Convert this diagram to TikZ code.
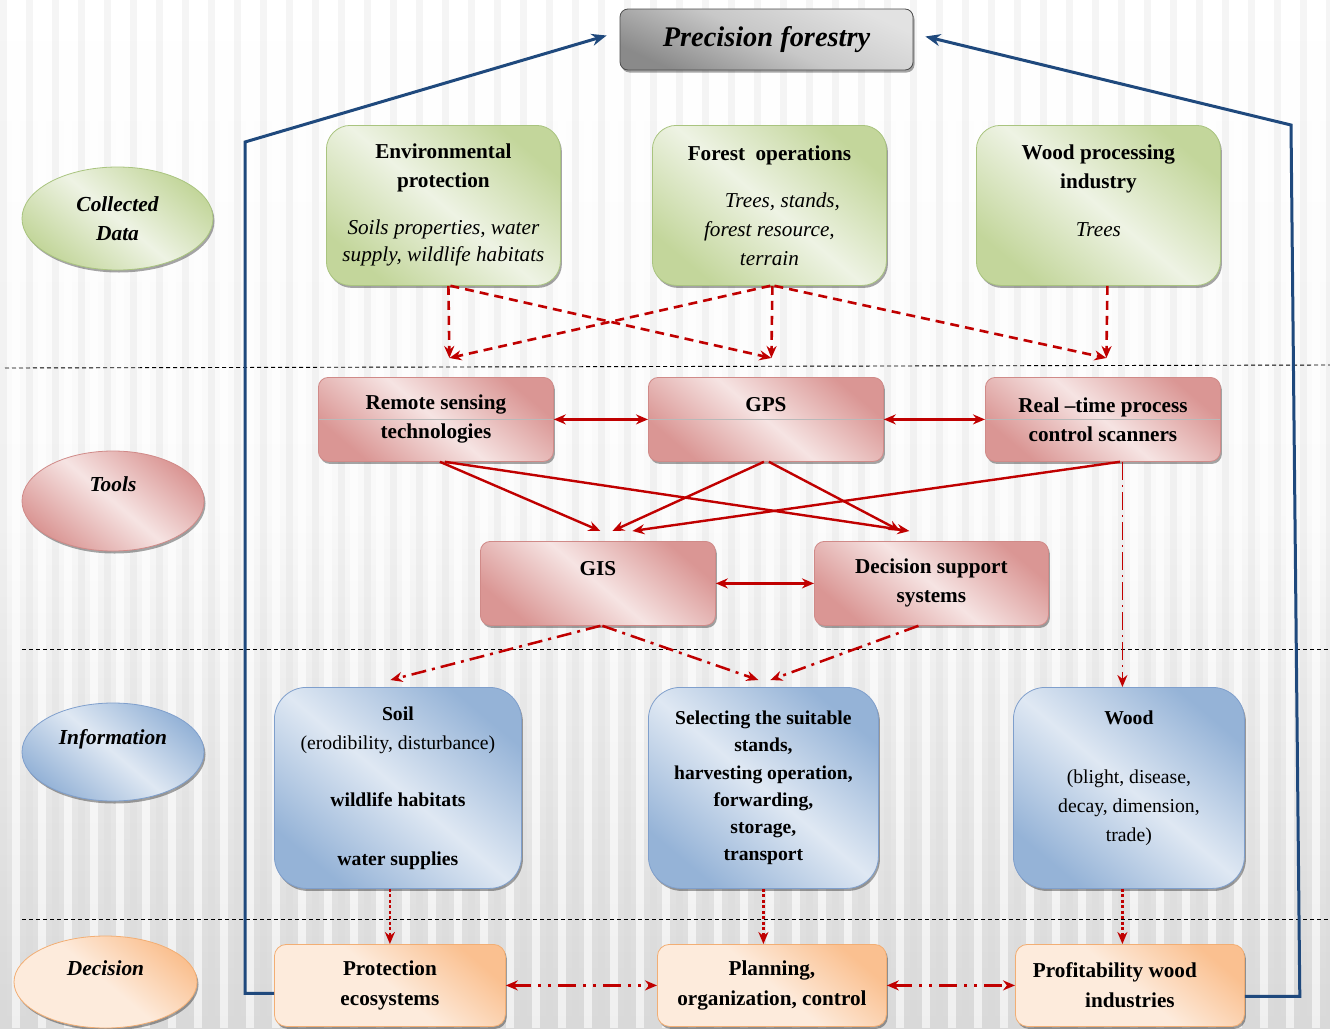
\documentclass[tikz,border=0pt]{standalone}
\usepackage{fontspec}
\setmainfont{Liberation Serif}
\usetikzlibrary{shapes.geometric,arrows.meta,shadows,calc}
\definecolor{gdk}{HTML}{C3D69B}
\definecolor{glt}{HTML}{EEF3E4}
\definecolor{gbd}{HTML}{A9C47F}
\definecolor{rdk}{HTML}{DA9694}
\definecolor{rlt}{HTML}{F6E4E3}
\definecolor{rbd}{HTML}{D08A88}
\definecolor{bdk}{HTML}{95B3D7}
\definecolor{blt}{HTML}{DFE8F3}
\definecolor{bbd}{HTML}{7F9FCC}
\definecolor{odk}{HTML}{FAC090}
\definecolor{olt}{HTML}{FDEBDC}
\definecolor{obd}{HTML}{F2AE74}
\definecolor{tdk}{HTML}{8A8A8A}
\definecolor{tlt}{HTML}{E2E2E2}
\definecolor{arr}{HTML}{C00000}
\definecolor{fbc}{HTML}{1F497D}
\newcommand\myit[1]{{\mdseries\itshape #1}}
\newcommand\myrm[1]{{\mdseries #1}}
\begin{document}
\begin{tikzpicture}[x=1pt,y=-1pt,
  shad/.style={drop shadow={shadow xshift=1.5pt, shadow yshift=-2.5pt, fill=black, opacity=0.35}},
  box/.style={shad, draw, line width=0.8pt, align=center, inner sep=2pt, anchor=north west},
  gbox/.style={box, rounded corners=24pt, draw=gbd, top color=gdk, bottom color=gdk, middle color=glt, shading angle=-40, minimum height=160pt, font=\fontsize{21.2}{29}\selectfont\bfseries},
  rbox/.style={box, rounded corners=10pt, draw=rbd, top color=rdk, bottom color=rdk, middle color=rlt, shading angle=-40, minimum width=235pt, minimum height=84pt, font=\fontsize{21.2}{29}\selectfont\bfseries},
  bbox/.style={box, rounded corners=32pt, draw=bbd, top color=bdk, bottom color=bdk, middle color=blt, shading angle=-40, minimum height=201pt, font=\fontsize{19.7}{29}\selectfont\bfseries},
  obox/.style={box, rounded corners=12pt, draw=obd, top color=odk, bottom color=olt, middle color=olt, shading angle=-40, minimum height=82pt, font=\fontsize{21.2}{30}\selectfont\bfseries},
  ell/.style={shad, ellipse, draw, line width=0.8pt, inner sep=0pt, align=center, font=\fontsize{21.4}{29}\selectfont\bfseries\itshape},
  sep/.style={draw=black, line width=0.9pt, dash pattern=on 4pt off 3pt},
  tip/.style={-{Stealth[length=12pt,width=10pt]}},
  dtip/.style={{Stealth[length=12pt,width=10pt]}-{Stealth[length=12pt,width=10pt]}},
  dsh/.style={draw=arr, line width=2.6pt, dash pattern=on 9pt off 6pt, tip},
  sol/.style={draw=arr, line width=2.4pt, tip},
  ddot/.style={draw=arr, line width=2.5pt, dash pattern=on 15pt off 6pt on 3pt off 6pt, tip},
  thdot/.style={draw=arr, line width=1.8pt, dash pattern=on 18pt off 5pt on 2pt off 5pt, tip},
  dots/.style={draw=arr, line width=2.2pt, dash pattern=on 3pt off 2.5pt, tip},
  ddd/.style={draw=arr, line width=2.6pt, dash pattern=on 18pt off 7pt on 3pt off 7pt on 3pt off 7pt, dtip},
  fb/.style={draw=fbc, line width=3pt, -{Stealth[length=15pt,width=12pt]}}
]
\useasboundingbox (0,0) rectangle (1330,1028);
% background
\fill[top color=white, bottom color=gray!30, middle color=gray!5] (0,0) rectangle (1330,1028);
\foreach \x in {0,26,...,1330} {
  \fill[gray!30, opacity=0.25] (\x,0) rectangle ++(7,1028);
  \fill[white, opacity=0.6] (\x+12,0) rectangle ++(8,1028);
}
% separators
\draw[sep] (5,368) -- (1330,365);
\draw[sep] (22,649) -- (1330,649);
\draw[sep] (22,919) -- (1330,919);

% title
\node[shad, draw=gray!60!black, line width=0.8pt, rounded corners=8pt, top color=tlt, bottom color=tdk, middle color=tlt!70!tdk, shading angle=-25, minimum width=293pt, minimum height=61pt, font=\fontsize{28.4}{32}\selectfont\bfseries\itshape] (pf) at (766.5,39.5) {Precision forestry};

% ellipses
\node[ell, draw=gbd, top color=gdk, bottom color=gdk, middle color=glt, shading angle=-40, minimum width=191pt, minimum height=103pt] (cd) at (117.5,218.5) {Collected\\Data};
\node[ell, draw=rbd, top color=rdk, bottom color=rdk, middle color=rlt, shading angle=-40, minimum width=182pt, minimum height=100pt] (tl) at (113,501) {Tools\\[4pt]\mbox{}};
\node[ell, draw=bbd, top color=bdk, bottom color=bdk, middle color=blt, shading angle=-40, minimum width=182pt, minimum height=98pt] (inf) at (113,752) {Information\\[1pt]\mbox{}};
\node[ell, draw=obd, top color=odk, bottom color=olt, middle color=olt, shading angle=-40, minimum width=183pt, minimum height=92pt] (dec) at (105.5,982) {Decision\\[-1pt]\mbox{}};

% collected data
\node[gbox, minimum width=234pt] (env) at (326,125) {Environmental\\protection\\[18pt]\myit{Soils properties, water}\\[-2pt]\myit{supply, wildlife habitats}};
\node[gbox, minimum width=234pt] (fo) at (652,125) {Forest\ \ operations\\[18pt]\makebox[26pt]{}\myit{Trees, stands,}\\\myit{forest resource,}\\\myit{terrain}};
\node[gbox, minimum width=244pt] (wp) at (976,125) {Wood processing\\industry\\[19pt]\myit{Trees}\\\mbox{}};

% tools
\tikzset{midline/.style={path picture={\draw[gray!55, line width=0.5pt] (path picture bounding box.west) -- (path picture bounding box.east);}}}
\node[rbox, midline] (rs) at (318,377) {Remote sensing\\technologies};
\node[rbox, midline] (gps) at (648,377) {GPS\\\mbox{}};
\node[rbox, midline] (rt) at (985,377) {Real --time process\\control scanners};
\node[rbox] (gis) at (480,541) {GIS\\\mbox{}};
\node[rbox, minimum width=234pt] (dss) at (814,541) {Decision support\\systems};

% information
\node[bbox, minimum width=247pt] (soil) at (274,687) {Soil\\\myrm{(erodibility, disturbance)}\\[28pt]wildlife habitats\\[30pt]water supplies};
\node[bbox, minimum width=230pt, font=\fontsize{19.6}{27.2}\selectfont\bfseries] (sel) at (648,687) {Selecting the suitable\\stands,\\harvesting operation,\\forwarding,\\storage,\\transport};
\node[bbox, minimum width=231pt] (wood) at (1013,687) {Wood\\[30pt]\myrm{(blight, disease,}\\\myrm{decay, dimension,}\\\myrm{trade)}\\[-6pt]\mbox{}};

% decision
\node[obox, minimum width=231pt] (prot) at (274,944) {Protection\\ecosystems};
\node[obox, minimum width=229pt] (plan) at (657,944) {Planning,\\organization, control};
\node[obox, minimum width=229pt] (prof) at (1015,944) {Profitability wood\makebox[30pt]{}\\industries};

% arrow end coordinates
\coordinate (rsIn) at ([xshift=13.5pt,yshift=19pt]rs.north);
\coordinate (gpsIn) at ([xshift=5.5pt,yshift=19pt]gps.north);
\coordinate (rtIn) at ([xshift=3.5pt,yshift=19pt]rt.north);
\coordinate (gisIn1) at ([xshift=2.5pt,yshift=10pt]gis.north);
\coordinate (gisIn2) at ([xshift=14.5pt,yshift=10pt]gis.north);
\coordinate (gisIn3) at ([xshift=34.5pt,yshift=10pt]gis.north);
\coordinate (dssIn1) at ([xshift=-31pt,yshift=10pt]dss.north);
\coordinate (dssIn2) at ([xshift=-22pt,yshift=10pt]dss.north);
\coordinate (soilIn) at ([xshift=-7.5pt,yshift=7pt]soil.north);
\coordinate (selIn1) at ([xshift=-5pt,yshift=7pt]sel.north);
\coordinate (selIn2) at ([xshift=7pt,yshift=7pt]sel.north);

% collected data -> tools
\draw[dsh] ([xshift=5pt]env.south) -- (rsIn);
\draw[dsh] ([xshift=7pt]env.south) -- (gpsIn);
\draw[dsh] ([xshift=3pt]fo.south) -- (gpsIn);
\draw[dsh] ([xshift=1pt]fo.south) -- (rsIn);
\draw[dsh] ([xshift=5pt]fo.south) -- (rtIn);
\draw[dsh] ([xshift=9pt]wp.south) -- (rtIn);

% tools
\draw[draw=arr, line width=2.4pt, dtip] (rs.east) -- (gps.west);
\draw[draw=arr, line width=2.4pt, dtip] (gps.east) -- (rt.west);
\draw[draw=arr, line width=2.4pt, dtip] (gis.east) -- (dss.west);
\draw[sol] ([xshift=4pt]rs.south) -- (gisIn1);
\draw[sol] ([xshift=9pt]rs.south) -- (dssIn2);
\draw[sol] ([xshift=-2pt]gps.south) -- (gisIn2);
\draw[sol] ([xshift=3pt]gps.south) -- (dssIn1);
\draw[sol] ([xshift=17pt]rt.south) -- (gisIn3);
\draw[thdot] ([xshift=19.5pt]rt.south) -- ([xshift=-6.5pt]wood.north);

% tools -> information
\draw[ddot] ([xshift=2.5pt]gis.south) -- (soilIn);
\draw[ddot] ([xshift=4.5pt]gis.south) -- (selIn1);
\draw[ddot] ([xshift=-13pt]dss.south) -- (selIn2);

% information -> decision
\draw[dots] (prot.north |- soil.south) -- (prot.north);
\draw[dots] (sel.south) -- (sel.south |- plan.north);
\draw[dots] ([xshift=-6.5pt]wood.south) -- ([xshift=-6.5pt]wood.south |- prof.north);

% decision links
\draw[ddd] (prot.east) -- (plan.west);
\draw[ddd] (plan.east) -- (prof.west);

% feedback to precision forestry
\coordinate (fbL) at (245,142);
\coordinate (fbR) at (1291,125);
\draw[fb] ([yshift=-8pt]prot.west) -| (fbL) -- ([xshift=-13pt,yshift=4pt]pf.west);
\draw[fb] ([yshift=-11pt]prof.east) -- ++(55,0) -- (fbR) -- ([xshift=12pt,yshift=3pt]pf.east);
\end{tikzpicture}
\end{document}
